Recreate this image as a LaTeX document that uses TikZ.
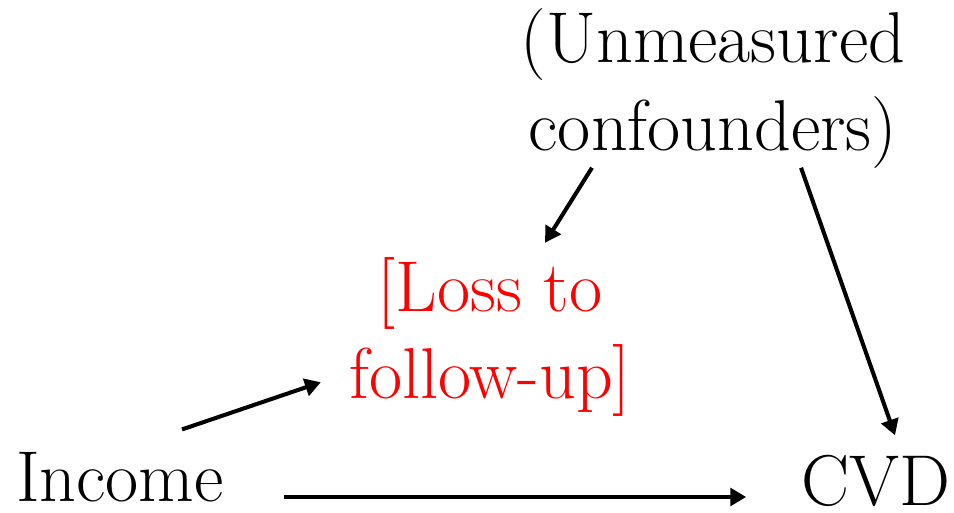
\documentclass[tikz,border=0pt]{standalone}
\usetikzlibrary{arrows.meta}
\begin{document}
\begin{tikzpicture}[x=0.02cm,y=-0.02cm,
  lbl/.style={inner sep=0pt,font=\fontsize{41}{50}\selectfont,align=center},
  arr/.style={line width=2.3pt,-{Triangle[length=9pt,width=10pt]}}]
 \useasboundingbox (0,0) rectangle (954,513);
 % variables
 \node[lbl,anchor=base] (inc) at (120,501) {Income};
 \node[lbl,anchor=base] (cvd) at (876,505) {CVD};
 \node[lbl] (unm) at (713,88.5) {(Unmeasured\\confounders)};
 \node[lbl,text=red] (loss) at (490,337) {[Loss to\\follow-up]};
 % arrows
 \draw[arr] ([shift={(60,-4)}]inc.base east) -- ([shift={(-55,-8)}]cvd.base west);
 \draw[arr] ([shift={(62,-22)}]inc.north) -- ([shift={(-28,-35)}]loss.south west);
 \draw[arr] ([shift={(71.5,-1)}]unm.south west) -- ([shift={(55,-14)}]loss.north);
 \draw[arr] ([shift={(-104.5,-1)}]unm.south east) -- ([shift={(19,-19)}]cvd.north);
\end{tikzpicture}
\end{document}
